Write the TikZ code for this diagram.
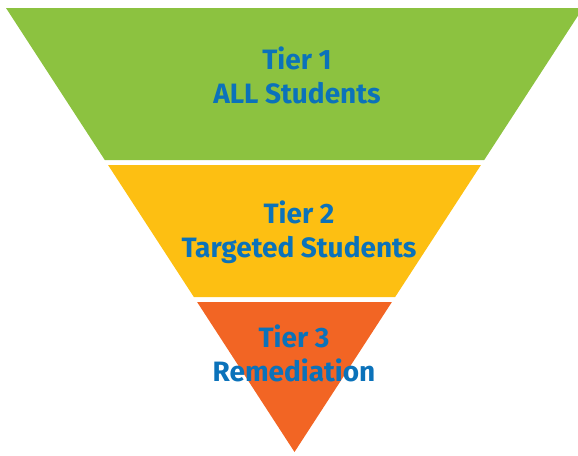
\documentclass[tikz,border=0pt]{standalone}
\usepackage{fontspec}
\setmainfont{Fira Sans}
\definecolor{tgreen}{HTML}{8CC240}
\definecolor{tyellow}{HTML}{FDBF12}
\definecolor{torange}{HTML}{F26524}
\definecolor{tblue}{HTML}{0B72BA}
\tikzset{
  tierlabel/.style={text=tblue, font=\fontsize{28}{34}\selectfont\bfseries, align=center, inner sep=0pt, anchor=base}
}
\begin{document}
\begin{tikzpicture}[x=1pt,y=-1pt]
\useasboundingbox (0,0) rectangle (578,455);
\clip (0,0) rectangle (578,455);
\fill[tgreen] (6,8) -- (583,8) -- (484.2,160) -- (104.8,160) -- cycle;
\fill[tyellow] (108.05,165) -- (480.95,165) -- (395.15,297) -- (193.85,297) -- cycle;
\fill[torange] (197.1,302) -- (391.9,302) -- (294.5,452) -- cycle;
\node[tierlabel] (t1a) at (297,69) {Tier 1};
\node[tierlabel] (t1b) at (297,103) {ALL Students};
\node[tierlabel] (t2a) at (299,223) {Tier 2};
\node[tierlabel] (t2b) at (299,257) {Targeted Students};
\node[tierlabel] (t3a) at (294,347) {Tier 3};
\node[tierlabel] (t3b) at (294,381) {Remediation};
\end{tikzpicture}
\end{document}
